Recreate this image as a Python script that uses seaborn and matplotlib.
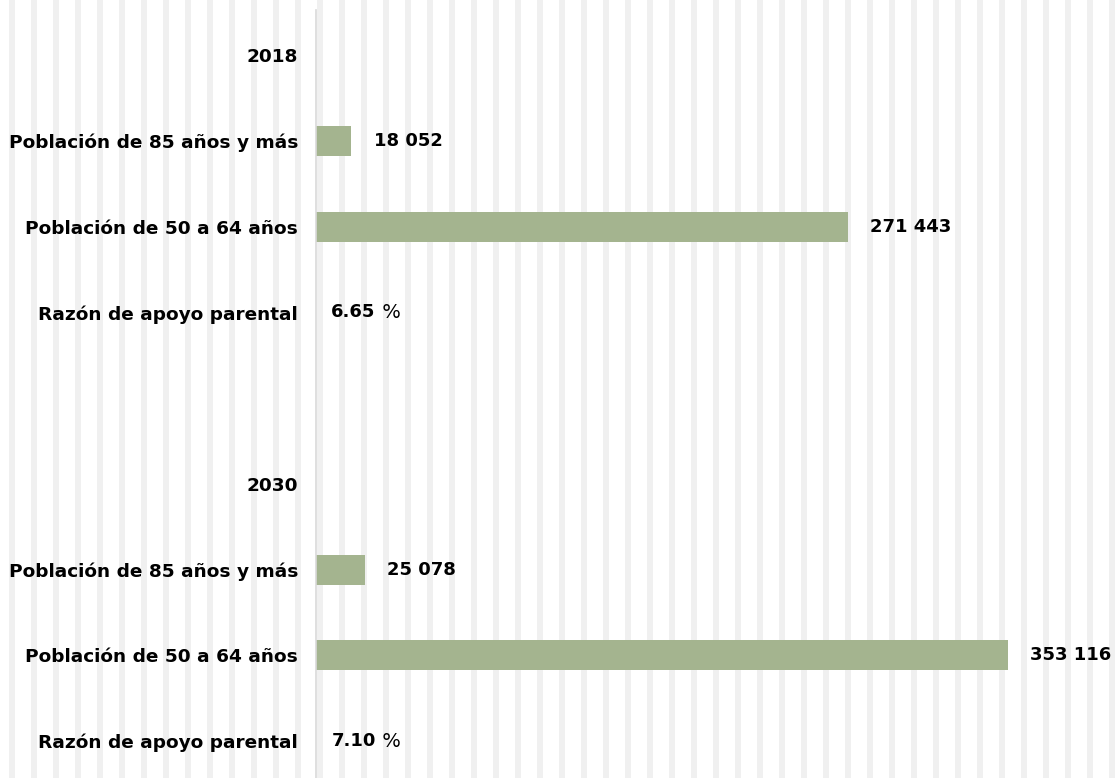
import numpy as np
import pandas as pd
import matplotlib
matplotlib.use("Agg")
import matplotlib.pyplot as plt
import seaborn as sns

# Indicadores por año
years = ["2018", "2030"]
pop_85_mas = [18052, 25078]
pop_50_64 = [271443, 353116]
razon_apoyo = [6.65, 7.10]

lbl_85 = "Población de 85 años y más"
lbl_50 = "Población de 50 a 64 años"
lbl_razon = "Razón de apoyo parental"

# One row per line of the chart: year header, three indicators, then a spacer
rows, labels, values, kinds = [], [], [], []
for i, yr in enumerate(years):
    block = [(yr, np.nan, "header"),
             (lbl_85, pop_85_mas[i], "count"),
             (lbl_50, pop_50_64[i], "count"),
             (lbl_razon, razon_apoyo[i], "ratio")]
    if i < len(years) - 1:
        block.append(("", np.nan, "blank"))
    for lab, val, kind in block:
        rows.append(str(len(rows)))
        labels.append(lab)
        values.append(val)
        kinds.append(kind)

df = pd.DataFrame({"fila": rows, "valor": values, "etiqueta": labels, "tipo": kinds})

sns.set_theme(style="white")
plt.rcParams["font.family"] = ["DejaVu Sans"]

W, H = 1115, 778
fig = plt.figure(figsize=(W / 100, H / 100), dpi=100)
fig.patch.set_facecolor("white")

# Striped background across the whole figure
bg = fig.add_axes([0, 0, 1, 1], zorder=0)
bg.set_xlim(0, W)
bg.set_ylim(0, H)
bg.axis("off")
for xs in np.arange(11.8, W, 22):
    bg.axvline(xs, color="#f0f0f0", lw=6 * 0.72, zorder=0)

ax = fig.add_axes([316 / W, 0, 1 - 316 / W, 1 - 10 / H], zorder=1)
ax.patch.set_alpha(0)

sns.barplot(data=df, x="valor", y="fila", order=rows, orient="h",
            color="#a4b48f", saturation=1, width=0.35, linewidth=0, ax=ax)

ax.set_xlim(0, (W - 316) / 1.96e-3)
ax.set_ylim(len(rows) - 1 + 0.43, -0.525)
ax.set_xlabel("")
ax.set_ylabel("")
ax.set_xticks([])
ax.set_yticks(range(len(rows)))
ax.set_yticklabels(labels, fontsize=13.3, fontweight="bold", color="black")
ax.tick_params(axis="y", length=0, pad=13)
for side in ["top", "right", "bottom"]:
    ax.spines[side].set_visible(False)
ax.spines["left"].set_color("#d9d9d9")
ax.spines["left"].set_linewidth(1.2)

# Value labels
for pos, (val, kind) in enumerate(zip(values, kinds)):
    if kind == "count":
        txt = f"{int(val):,}".replace(",", " ")
        ax.annotate(txt, xy=(val, pos), xytext=(16, 0), textcoords="offset points",
                    ha="left", va="center", fontsize=13, fontweight="bold",
                    color="black")
    elif kind == "ratio":
        num = ax.annotate(f"{val:.2f}", xy=(val, pos), xytext=(11, 0),
                          textcoords="offset points", ha="left", va="center",
                          fontsize=13, fontweight="bold", color="black")
        ax.annotate(" %", xy=(1, 0.5), xycoords=num, ha="left", va="center",
                    fontsize=14, color="black")

fig.savefig("out.png", dpi=100)
